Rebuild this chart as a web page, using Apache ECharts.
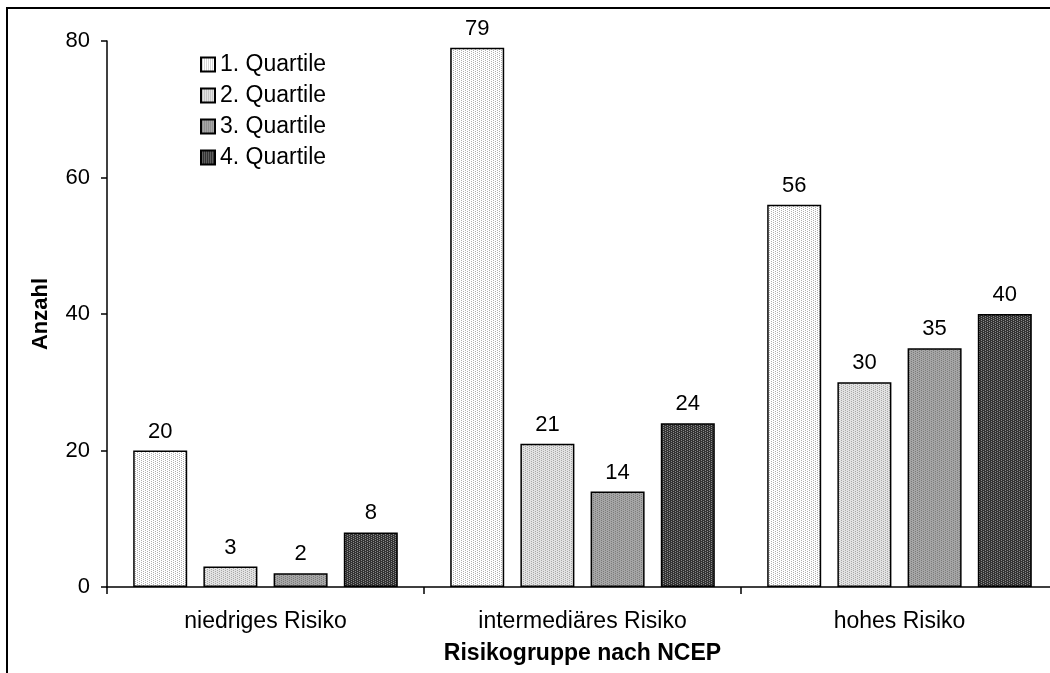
<!DOCTYPE html>
<html>
<head>
<meta charset="utf-8">
<script src="https://cdn.jsdelivr.net/npm/echarts@6/dist/echarts.min.js"></script>
<style>
  html, body { margin: 0; padding: 0; background: #fff; }
  #main { width: 1050px; height: 673px; }
</style>
</head>
<body>
<div id="main"></div>
<script>
// Daten
const categories = ["niedriges Risiko", "intermediäres Risiko", "hohes Risiko"];
const seriesNames = ["1. Quartile", "2. Quartile", "3. Quartile", "4. Quartile"];
const q1 = [20, 79, 56];
const q2 = [3, 21, 30];
const q3 = [2, 14, 35];
const q4 = [8, 24, 40];
const yTicks = [0, 20, 40, 60, 80];

// kleines Punktraster als Füllmuster
function makePattern(bg, dot) {
  const c = document.createElement("canvas");
  c.width = 4;
  c.height = 4;
  const ctx = c.getContext("2d");
  ctx.fillStyle = bg;
  ctx.fillRect(0, 0, 4, 4);
  ctx.fillStyle = dot;
  ctx.fillRect(1, 0, 1, 1);
  ctx.fillRect(1, 2, 1, 1);
  ctx.fillRect(3, 1, 1, 1);
  ctx.fillRect(3, 3, 1, 1);
  return { image: c, repeat: "repeat" };
}

const fills = [
  makePattern("#ffffff", "#b0b0b0"),
  makePattern("#e2e2e2", "#a8a8a8"),
  makePattern("#a6a6a6", "#7a7a7a"),
  makePattern("#333333", "#8a8a8a"),
];

const font = "Liberation Sans, Arial, sans-serif";
const values = [q1, q2, q3, q4];

const chart = echarts.init(document.getElementById("main"));
const option = {
  backgroundColor: "#fff",
  animation: false,
  graphic: [
    {
      type: "rect",
      shape: { x: 7, y: 8, width: 1200, height: 800 },
      style: { fill: "none", stroke: "#000", lineWidth: 2 },
      silent: true,
    },
  ],
  legend: {
    orient: "vertical",
    left: 200,
    top: 53,
    padding: 0,
    itemWidth: 14,
    itemHeight: 14,
    itemGap: 8,
    icon: "rect",
    data: seriesNames,
    textStyle: { fontFamily: font, fontSize: 23, color: "#000", lineHeight: 23 },
  },
  grid: {
    left: 107,
    width: 951,
    top: 41,
    bottom: 86,
    containLabel: false,
    outerBoundsMode: "none",
  },
  xAxis: {
    type: "category",
    data: categories,
    name: "Risikogruppe nach NCEP",
    nameLocation: "middle",
    nameGap: 55,
    nameTextStyle: { fontFamily: font, fontSize: 23, fontWeight: "bold", color: "#000", verticalAlign: "top" },
    axisLine: { lineStyle: { color: "#000", width: 1.5 } },
    axisTick: { show: true, length: 7, lineStyle: { color: "#000", width: 1.5 } },
    axisLabel: { fontFamily: font, fontSize: 23, color: "#000", margin: 23 },
    splitLine: { show: false },
  },
  yAxis: {
    type: "value",
    min: 0,
    max: yTicks[yTicks.length - 1],
    interval: yTicks[1] - yTicks[0],
    name: "Anzahl",
    nameLocation: "middle",
    nameGap: 55,
    nameRotate: 90,
    nameTextStyle: { fontFamily: font, fontSize: 22, fontWeight: "bold", color: "#000" },
    axisLine: { show: true, lineStyle: { color: "#000", width: 1.5 } },
    axisTick: { show: true, length: 6, lineStyle: { color: "#000", width: 1.5 } },
    axisLabel: { fontFamily: font, fontSize: 22, color: "#000", margin: 17 },
    splitLine: { show: false },
  },
  series: seriesNames.map((name, i) => ({
    name: name,
    type: "bar",
    barWidth: 54,
    barGap: "30%",
    data: values[i],
    itemStyle: {
      color: fills[i],
      borderColor: "#000",
      borderWidth: 1.5,
    },
    label: {
      show: true,
      position: "top",
      distance: 8,
      fontFamily: font,
      fontSize: 22,
      color: "#000",
    },
  })),
};
chart.setOption(option);
</script>
</body>
</html>
